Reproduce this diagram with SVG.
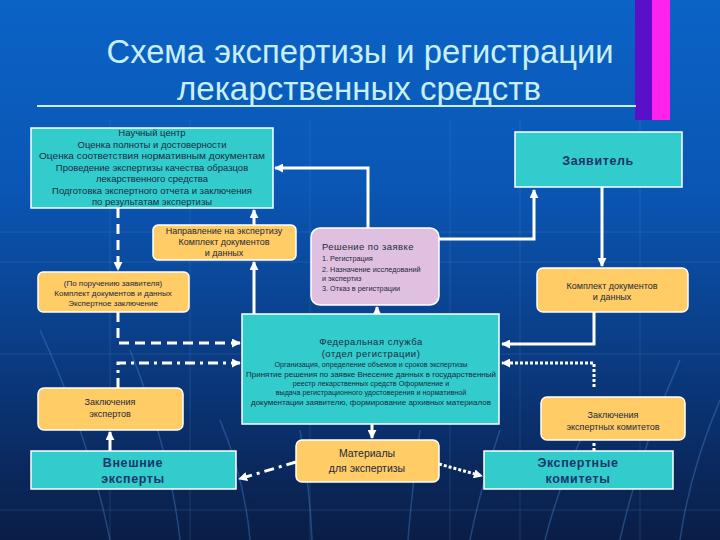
<svg xmlns="http://www.w3.org/2000/svg" width="720" height="540" viewBox="0 0 720 540">
<defs>
<linearGradient id="bg" x1="0" y1="0" x2="0" y2="1">
<stop offset="0" stop-color="#0b63c6"/>
<stop offset="0.35" stop-color="#0a56b4"/>
<stop offset="0.65" stop-color="#0a3c84"/>
<stop offset="1" stop-color="#0a1d46"/>
</linearGradient>
<marker id="ah" viewBox="0 0 10 10" refX="9" refY="5" markerWidth="9" markerHeight="9" markerUnits="userSpaceOnUse" orient="auto">
<path d="M0,0 L10,5 L0,10 z" fill="#ffffff"/>
</marker>
<style>
.teal{fill:#33cccc;stroke:#ffffff;stroke-width:1.5}
.org{fill:#ffcc66;stroke:#ffffff;stroke-width:1.5}
.pink{fill:#e0c0e0;stroke:#ffffff;stroke-width:1.5}
.t{font-family:"Liberation Sans",Arial,sans-serif;fill:#1c2a3c;text-anchor:middle}
.s95{font-size:9.5px}
.s9{font-size:9px}
.s8{font-size:8px}
.s7{font-size:7.2px}
.b{font-weight:bold;fill:#17376a;font-size:12.5px;letter-spacing:0.6px}
.ln{fill:none;stroke:#ffffff;stroke-width:3}
.dash{stroke-dasharray:10,6}
.dot{stroke-dasharray:3,2}
.dd{stroke-dasharray:10,5,3,5}
.grid{stroke:#6fa6e6;stroke-opacity:0.18;stroke-width:1;fill:none}
.curve{stroke:#4f8fe0;stroke-opacity:0.35;stroke-width:1.5;fill:none}
</style>
</defs>
<rect width="720" height="540" fill="url(#bg)"/>
<g id="background-lines">
<path class="grid" d="M0,232 H720 M0,262 H720 M0,354 H720 M0,510 H720 M110,120 V540 M190,120 V540 M310,120 V540 M450,120 V540 M520,120 V540 M640,120 V540"/>
<path class="curve" d="M40,330 Q90,440 110,540 M130,350 Q170,450 180,540 M220,420 Q245,480 250,540 M300,430 Q310,490 312,540 M420,430 Q412,490 408,540 M500,430 Q480,490 470,540 M590,420 Q560,480 545,540 M680,360 Q640,450 620,540 M720,400 Q690,470 680,540"/>
</g>
<g id="stripes">
<rect x="635" y="0" width="17" height="120" fill="#5a10c8"/>
<rect x="652" y="0" width="18" height="120" fill="#ff22ee"/>
</g>
<g id="title">
<text x="360" y="63" font-family="Liberation Sans,Arial,sans-serif" font-size="34" fill="#c8f0f4" text-anchor="middle" textLength="507" lengthAdjust="spacingAndGlyphs">Схема экспертизы и регистрации</text>
<text x="359" y="100" font-family="Liberation Sans,Arial,sans-serif" font-size="34" fill="#c8f0f4" text-anchor="middle" textLength="364" lengthAdjust="spacingAndGlyphs">лекарственных средств</text>
<rect x="37" y="105" width="599" height="2" fill="#c8f0f4"/>
</g>
<g id="connectors">
<path class="ln" d="M368,228 V168 H275" marker-end="url(#ah)"/>
<path class="ln" d="M439,239 H534 V190" marker-end="url(#ah)"/>
<path class="ln" d="M602,187 V266" marker-end="url(#ah)"/>
<path class="ln" d="M594,312 V344 H502" marker-end="url(#ah)"/>
<path class="ln dot" d="M594,387 V363 H502" marker-end="url(#ah)"/>
<path class="ln dot" d="M594,451 V441"/>
<path class="ln dash" d="M118,208 V270" marker-end="url(#ah)"/>
<path class="ln dash" d="M118,312 V343 H240" marker-end="url(#ah)"/>
<path class="ln dd" d="M118,388 V363 H240" marker-end="url(#ah)"/>
<path class="ln" d="M110,451 V432" marker-end="url(#ah)"/>
<path class="ln" d="M254,314 V262" marker-end="url(#ah)"/>
<path class="ln" d="M254,225 V210" marker-end="url(#ah)"/>
<path class="ln" d="M377,314 V307" marker-end="url(#ah)"/>
<path class="ln" d="M372,424 V438" marker-end="url(#ah)"/>
<path class="ln dd" d="M296,462 L239,479" marker-end="url(#ah)"/>
<path class="ln dot" d="M439,464 L482,476" marker-end="url(#ah)"/>
</g>
<g id="science-center">
<rect class="teal" x="31" y="128" width="242" height="80"/>
<text class="t s95" x="152" y="136">Научный центр</text>
<text class="t s95" x="152" y="147.5">Оценка полноты и достоверности</text>
<text class="t s95" x="152" y="159" textLength="226" lengthAdjust="spacingAndGlyphs">Оценка соответствия нормативным документам</text>
<text class="t s95" x="152" y="170.5">Проведение экспертизы качества  образцов</text>
<text class="t s95" x="152" y="182">лекарственного средства</text>
<text class="t s95" x="152" y="193.5">Подготовка экспертного отчета и заключения</text>
<text class="t s95" x="152" y="205">по результатам экспертизы</text>
</g>
<g id="applicant">
<rect class="teal" x="515" y="132" width="167" height="55"/>
<text class="t b" x="598" y="165">Заявитель</text>
</g>
<g id="direction">
<rect class="org" x="153" y="225" width="143" height="35" rx="5"/>
<text class="t s9" x="224" y="234">Направление на экспертизу</text>
<text class="t s9" x="224" y="245">Комплект документов</text>
<text class="t s9" x="224" y="256">и данных</text>
</g>
<g id="by-order">
<rect class="org" x="38" y="272" width="151" height="40" rx="5"/>
<text class="t s8" x="113" y="286">(По поручению заявителя)</text>
<text class="t s8" x="113" y="296">Комплект документов и данных</text>
<text class="t s8" x="113" y="306">Экспертное заключение</text>
</g>
<g id="decision">
<rect class="pink" x="311" y="228" width="128" height="77" rx="9"/>
<text class="t" x="322" y="250" font-size="9.5" text-anchor="start" style="text-anchor:start;letter-spacing:0.4px">Решение по заявке</text>
<text class="t" x="322" y="261" font-size="7.3" style="text-anchor:start">1. Регистрация</text>
<text class="t" x="322" y="271.5" font-size="7.3" style="text-anchor:start">2. Назначение исследований</text>
<text class="t" x="322" y="281" font-size="7.3" style="text-anchor:start">и экспертиз</text>
<text class="t" x="322" y="291" font-size="7.3" style="text-anchor:start">3. Отказ в регистрации</text>
</g>
<g id="docs-right">
<rect class="org" x="537" y="268" width="151" height="44" rx="6"/>
<text class="t s9" x="612" y="289">Комплект документов</text>
<text class="t s9" x="612" y="300">и данных</text>
</g>
<g id="federal-service">
<rect class="teal" x="242" y="314" width="257" height="110"/>
<text class="t s95" x="371" y="345" style="letter-spacing:0.5px">Федеральная служба</text>
<text class="t s95" x="371" y="357" style="letter-spacing:0.5px">(отдел регистрации)</text>
<text class="t s7" x="371" y="367">Организация, определение объемов и сроков экспертизы</text>
<text class="t s7" x="371" y="376.5" textLength="250" lengthAdjust="spacingAndGlyphs">Принятие решения по заявке Внесение данных в государственный</text>
<text class="t s7" x="371" y="385.5">реестр лекарственных средств Оформление и</text>
<text class="t s7" x="371" y="395">выдача регистрационного  удостоверения и нормативной</text>
<text class="t s7" x="371" y="405" textLength="240" lengthAdjust="spacingAndGlyphs">документации заявителю, формирование архивных материалов</text>
</g>
<g id="expert-conclusions">
<rect class="org" x="38" y="388" width="145" height="42" rx="6"/>
<text class="t s9" x="110" y="405">Заключения</text>
<text class="t s9" x="110" y="417">экспертов</text>
</g>
<g id="external-experts">
<rect class="teal" x="31" y="451" width="205" height="38"/>
<text class="t b" x="133" y="467">Внешние</text>
<text class="t b" x="133" y="483">эксперты</text>
</g>
<g id="committee-conclusions">
<rect class="org" x="541" y="397" width="144" height="43" rx="6"/>
<text class="t s9" x="613" y="418">Заключения</text>
<text class="t s9" x="613" y="430">экспертных комитетов</text>
</g>
<g id="expert-committees">
<rect class="teal" x="484" y="451" width="189" height="38"/>
<text class="t b" x="578" y="467">Экспертные</text>
<text class="t b" x="578" y="483">комитеты</text>
</g>
<g id="materials">
<rect class="org" x="296" y="440" width="143" height="42" rx="6"/>
<text class="t" x="367" y="457" font-size="10.5">Материалы</text>
<text class="t" x="367" y="472" font-size="10.5">для экспертизы</text>
</g>
</svg>
